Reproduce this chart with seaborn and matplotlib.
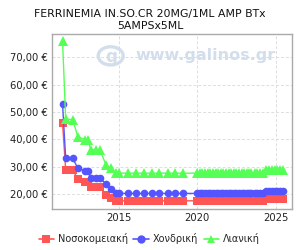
import matplotlib
matplotlib.use("Agg")
import matplotlib.pyplot as plt
import seaborn as sns
import pandas as pd
from matplotlib.lines import Line2D
from matplotlib.patches import Circle

sns.set_theme(style="white")
plt.rcParams['font.family'] = ['DejaVu Sans']

title = "FERRINEMIA IN.SO.CR 20MG/1ML AMP BTx\n5AMPSx5ML"
series_names = ["Νοσοκομειακή", "Χονδρική", "Λιανική"]
colors = ["#ff5555", "#5555ff", "#55ff55"]
markers = ["s", "o", "^"]

dates = [2011.40, 2011.60, 2012.04, 2012.38, 2012.85, 2013.04, 2013.19, 2013.51, 2013.79,
         2014.17, 2014.49, 2014.79, 2014.99, 2015.58, 2016.11, 2016.60, 2017.09, 2017.58,
         2018.15, 2018.56, 2019.07,
         2020.00, 2020.17, 2020.33, 2020.50, 2020.67, 2020.83, 2021.00, 2021.17, 2021.33,
         2021.50, 2021.67, 2021.83, 2022.00, 2022.17, 2022.33, 2022.50, 2022.67, 2022.83,
         2023.00, 2023.17, 2023.33, 2023.46,
         2023.68, 2023.84, 2024.00, 2024.20,
         2024.40, 2024.58, 2024.76, 2024.94, 2025.12, 2025.30, 2025.47]

hospital = [45.9, 28.8, 28.8, 25.5, 24.5, 24.5, 22.6, 22.6, 22.6,
            19.8, 18.4, 17.5, 17.5, 17.5, 17.5, 17.5, 17.5, 17.5,
            17.5, 17.5, 17.5,
            17.5, 17.5, 17.5, 17.5, 17.5, 17.5, 17.5, 17.5, 17.5,
            17.5, 17.5, 17.5, 17.5, 17.5, 17.5, 17.5, 17.5, 17.5,
            17.5, 17.5, 17.5, 17.5,
            17.5, 17.5, 17.5, 17.5,
            18.3, 18.3, 18.3, 18.3, 18.3, 18.3, 18.3]

wholesale = [52.8, 33.1, 33.1, 29.4, 28.5, 28.5, 25.7, 25.7, 25.7,
             23.7, 21.7, 20.5, 20.2, 20.2, 20.2, 20.2, 20.2, 20.2,
             20.2, 20.2, 20.2,
             20.2, 20.2, 20.2, 20.2, 20.2, 20.2, 20.2, 20.2, 20.2,
             20.2, 20.2, 20.2, 20.2, 20.2, 20.2, 20.2, 20.2, 20.2,
             20.2, 20.2, 20.2, 20.2,
             20.2, 20.2, 20.2, 20.2,
             21.0, 21.0, 21.0, 21.0, 21.0, 21.0, 21.0]

retail = [75.8, 47.4, 47.2, 40.9, 39.9, 39.9, 36.2, 36.2, 36.2,
          30.6, 29.4, 27.8, 27.6, 27.6, 27.6, 27.6, 27.6, 27.6,
          27.6, 27.6, 27.6,
          27.6, 27.6, 27.6, 27.6, 27.6, 27.6, 27.6, 27.6, 27.6,
          27.6, 27.6, 27.6, 27.6, 27.6, 27.6, 27.6, 27.6, 27.6,
          27.6, 27.6, 27.6, 27.6,
          27.6, 27.6, 27.6, 27.6,
          28.6, 28.6, 28.6, 28.6, 28.6, 28.6, 28.6]

y_ticks = [20, 30, 40, 50, 60, 70]
x_ticks = [2015, 2020, 2025]
x_tick_labels = ["2015", "2020", "2025"]

fig = plt.figure(figsize=(3.0, 2.5), dpi=100)
ax = fig.add_axes([0.173, 0.164, 0.800, 0.700])

# watermark
ax.text(0.64, 0.875, "www.galinos.gr", transform=ax.transAxes, ha="center", va="center",
        fontsize=11.5, fontweight="bold", color="#d3deec", zorder=0)
circ = Circle((0.245, 0.875), 0.052, transform=ax.transAxes, fill=False,
              edgecolor="#d3deec", linewidth=2.4, zorder=0)
ax.add_patch(circ)
ax.text(0.245, 0.87, "g", transform=ax.transAxes, ha="center", va="center",
        fontsize=12, fontweight="bold", color="#d3deec", zorder=0)

for vals, c, m in zip([hospital, wholesale, retail], colors, markers):
    sns.lineplot(x=dates, y=vals, ax=ax, color=c, marker=m, markersize=5.5 if m != "^" else 6.5,
                 markeredgewidth=0, linewidth=1.0, alpha=1.0, zorder=3)

ax.set_xlim(2010.72, 2026.04)
ax.set_ylim(14.5, 78.5)
ax.set_yticks(y_ticks)
ax.set_yticklabels([f"{v},00 €" for v in y_ticks])
ax.set_xticks(x_ticks)
ax.set_xticklabels(x_tick_labels)
ax.tick_params(axis="both", labelsize=7.2, length=0, pad=3, colors="#222222")
ax.grid(True, color="#dddddd", linestyle=(0, (3, 2)), linewidth=0.7)
ax.set_axisbelow(True)
for s in ax.spines.values():
    s.set_color("#aaaaaa")
    s.set_linewidth(1.0)
ax.set_xlabel("")
ax.set_ylabel("")

fig.text(0.5, 0.965, title, ha="center", va="top", fontsize=7.8, color="#111111",
         linespacing=1.25)

handles = [Line2D([0], [0], color=c, marker=m, markersize=6, markeredgewidth=0, linewidth=1.2)
           for c, m in zip(colors, markers)]
fig.legend(handles, series_names, loc="center", bbox_to_anchor=(0.497, 0.045), ncol=3,
           frameon=False, fontsize=7.0, handlelength=1.6, handletextpad=0.35,
           columnspacing=0.6)

fig.savefig("out.png", dpi=100)
